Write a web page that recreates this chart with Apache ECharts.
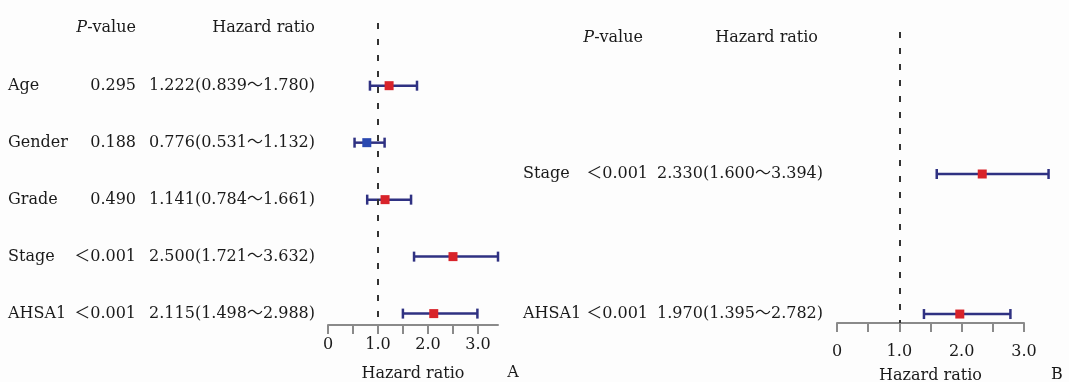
<!DOCTYPE html>
<html>
<head>
<meta charset="utf-8">
<script src="https://cdn.jsdelivr.net/npm/echarts@6/dist/echarts.min.js"></script>
<style>
  html,body{margin:0;padding:0;background:#fdfdfd;}
  #forest{width:1069px;height:382px;}
</style>
</head>
<body>
<div id="forest"></div>
<script>
  // 单因素 (A)
  var namesA = ['Age', 'Gender', 'Grade', 'Stage', 'AHSA1'];
  var pA = ['0.295', '0.188', '0.490', '＜0.001', '＜0.001'];
  var hrA = [1.222, 0.776, 1.141, 2.500, 2.115];
  var loA = [0.839, 0.531, 0.784, 1.721, 1.498];
  var hiA = [1.780, 1.132, 1.661, 3.632, 2.988];
  // 多因素 (B)
  var namesB = ['Stage', 'AHSA1'];
  var pB = ['＜0.001', '＜0.001'];
  var hrB = [2.330, 1.970];
  var loB = [1.600, 1.395];
  var hiB = [3.394, 2.782];
  // x 轴刻度
  var tickVals = [0, 0.5, 1, 1.5, 2, 2.5, 3];
  var labelVals = [0, 1, 2, 3];

  var FONT = '"DejaVu Serif", "Noto Sans CJK SC", serif';
  var INK = '#1a1a1a';

  function hrText(h, l, u) {
    return h.toFixed(3) + '(' + l.toFixed(3) + '～' + u.toFixed(3) + ')';
  }

  function buildData(hr, lo, hi) {
    var d = [];
    for (var i = 0; i < hr.length; i++) d.push([i, hr[i], lo[i], hi[i]]);
    return d;
  }

  // cols: 文字列的像素位置
  function makeRender(names, ps, cols, xMax) {
    return function (params, api) {
      var i = params.dataIndex;
      var row = api.value(0), hr = api.value(1), lo = api.value(2), hi = api.value(3);
      var pc = api.coord([hr, row]);
      var pl = api.coord([lo, row]);
      var ph = api.coord([Math.min(hi, xMax), row]);
      var y = pc[1];
      var ls = {stroke: '#2f3182', lineWidth: 2.5};
      function txt(s, x, align) {
        return {type: 'text', x: x, y: y,
          style: {text: s, fill: INK, font: '16px ' + FONT, align: align, verticalAlign: 'middle'}};
      }
      return {
        type: 'group',
        children: [
          {type: 'line', shape: {x1: pl[0], y1: y, x2: ph[0], y2: y}, style: ls},
          {type: 'line', shape: {x1: pl[0], y1: y - 5, x2: pl[0], y2: y + 5}, style: ls},
          {type: 'line', shape: {x1: ph[0], y1: y - 5, x2: ph[0], y2: y + 5}, style: ls},
          {type: 'rect', shape: {x: pc[0] - 4.5, y: y - 4.5, width: 9, height: 9},
            style: {fill: hr < 1 ? '#2a48b0' : '#d8232a'}},
          txt(names[i], cols.name, 'left'),
          txt(ps[i], cols.p, 'right'),
          txt(hrText(hr, lo, hi), cols.hr, 'right')
        ]
      };
    };
  }

  function xAxisOpt(idx, max, labelMargin, nameGap) {
    return {
      gridIndex: idx, type: 'value', min: 0, max: max,
      splitLine: {show: false},
      axisLine: {onZero: false, lineStyle: {color: '#8a8a8a', width: 2}},
      axisTick: {length: 9, customValues: tickVals, lineStyle: {color: '#8a8a8a', width: 2}},
      axisLabel: {
        customValues: labelVals, margin: labelMargin, color: INK, fontSize: 16, fontFamily: FONT,
        formatter: function (v) { return v === 0 ? '0' : v.toFixed(1); }
      },
      name: 'Hazard ratio', nameLocation: 'middle', nameGap: nameGap,
      nameTextStyle: {color: INK, fontSize: 16, fontFamily: FONT}
    };
  }

  var refLine = {
    silent: true, symbol: 'none',
    label: {show: false},
    lineStyle: {color: '#333', width: 2, type: [6, 10]},
    data: [{xAxis: 1}]
  };

  function header(text, x, y, align) {
    return {type: 'text', x: x, y: y,
      style: {text: text, fill: INK, font: '16px ' + FONT, align: align, verticalAlign: 'middle',
        rich: {i: {fontStyle: 'italic', fontSize: 16, fontFamily: FONT, fill: INK}}}};
  }

  var chart = echarts.init(document.getElementById('forest'));
  chart.setOption({
    backgroundColor: '#fdfdfd',
    animation: false,
    grid: [
      {left: 328, width: 170, top: 23, height: 302, outerBoundsMode: 'none'},
      {left: 837, width: 187, top: 32, height: 291, outerBoundsMode: 'none'}
    ],
    xAxis: [xAxisOpt(0, 3.4, 12, 41), xAxisOpt(1, 3.0, 21, 45)],
    yAxis: [
      {gridIndex: 0, type: 'value', inverse: true, min: -1.1, max: 4.2, show: false},
      {gridIndex: 1, type: 'value', inverse: true, min: -1.014, max: 1.064, show: false}
    ],
    graphic: [
      header('{i|P}-value', 136, 28, 'right'),
      header('Hazard ratio', 315, 28, 'right'),
      header('{i|P}-value', 643, 38, 'right'),
      header('Hazard ratio', 818, 38, 'right'),
      header('A', 513, 373, 'center'),
      header('B', 1057, 375, 'center')
    ],
    series: [
      {
        type: 'custom', xAxisIndex: 0, yAxisIndex: 0, clip: false,
        renderItem: makeRender(namesA, pA, {name: 8, p: 136, hr: 315}, 3.4),
        data: buildData(hrA, loA, hiA),
        markLine: refLine
      },
      {
        type: 'custom', xAxisIndex: 1, yAxisIndex: 1, clip: false,
        renderItem: makeRender(namesB, pB, {name: 523, p: 648, hr: 823}, Infinity),
        data: buildData(hrB, loB, hiB),
        markLine: refLine
      }
    ]
  });
</script>
</body>
</html>
